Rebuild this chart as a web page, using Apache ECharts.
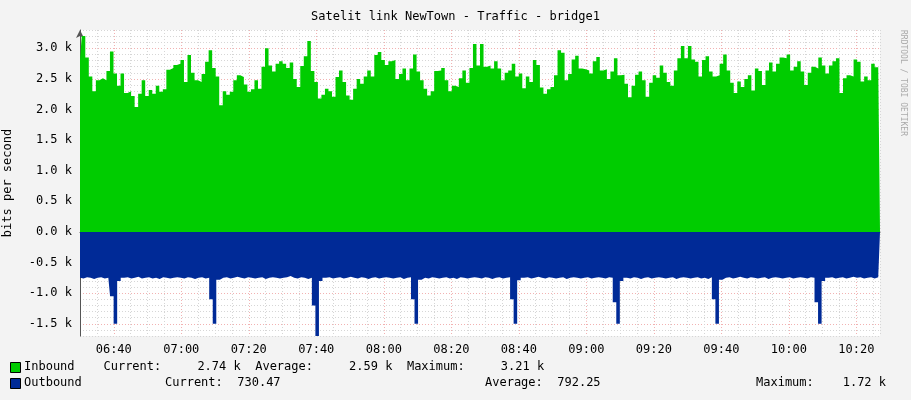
<!DOCTYPE html>
<html>
<head>
<meta charset="utf-8">
<script src="https://cdn.jsdelivr.net/npm/echarts@6/dist/echarts.min.js"></script>
<style>
  html, body { margin: 0; background: #f3f3f3; }
  #main { width: 911px; height: 400px; }
</style>
</head>
<body>
<div id="main"></div>
<script>
// minutes since midnight: first sample ~06:30, last ~10:27
var startMin = 390, endMin = 627;

// inbound, kbit/s
var inbound = [
  2.82,3.20,2.85,2.54,2.30,2.48,2.51,2.48,2.63,2.95,2.59,2.39,2.59,2.27,2.30,2.22,2.04,2.26,2.48,2.22,
  2.32,2.26,2.39,2.29,2.33,2.65,2.68,2.73,2.75,2.81,2.45,2.89,2.60,2.48,2.45,2.58,2.78,2.97,2.68,2.54,
  2.07,2.30,2.24,2.29,2.48,2.56,2.53,2.41,2.29,2.33,2.48,2.34,2.70,3.00,
  2.72,2.62,2.75,2.79,2.75,2.68,2.77,2.50,2.37,2.71,2.87,3.12,2.63,2.45,2.18,2.24,2.34,2.30,2.21,2.53,
  2.64,2.45,2.23,2.16,2.34,2.50,2.42,2.54,2.64,2.54,2.89,2.94,2.81,2.73,2.79,2.81,2.50,2.58,2.67,2.48,
  2.67,2.90,2.62,2.48,2.34,2.23,2.30,2.63,2.64,2.68,2.48,2.30,2.39,2.37,2.51,2.64,2.44,2.68,3.07,2.72,
  3.07,2.70,2.72,2.67,2.79,2.67,2.48,2.60,2.64,2.75,2.54,2.59,2.35,2.54,2.45,2.81,2.73,2.36,2.26,2.33,
  2.37,2.56,2.97,2.93,2.48,2.58,2.82,2.88,2.67,2.66,2.64,2.59,2.79,2.86,2.64,2.66,2.50,2.62,2.84,2.56,
  2.57,2.42,2.20,2.39,2.57,2.62,2.48,2.21,2.44,2.56,2.52,2.72,2.60,2.45,2.39,2.64,2.84,3.04,2.84,
  3.04,2.82,2.78,2.54,2.81,2.87,2.62,2.54,2.56,2.75,2.90,2.64,2.44,2.27,2.46,2.37,2.50,2.56,2.31,2.67,
  2.63,2.40,2.64,2.77,2.62,2.75,2.85,2.84,2.90,2.64,2.70,2.79,2.62,2.40,2.60,2.70,2.67,2.85,2.72,2.59,
  2.72,2.79,2.84,2.27,2.51,2.56,2.54,2.82,2.78,2.46,2.54,2.48,2.75,2.69,2.72
];

// outbound, kbit/s (drawn below zero)
var outbound = [
  -0.75,-0.76,-0.74,-0.75,-0.77,-0.75,-0.74,-0.76,-0.75,-1.05,-1.50,-0.80,-0.75,-0.74,-0.76,-0.75,-0.73,-0.76,-0.75,-0.74,
  -0.76,-0.75,-0.77,-0.74,-0.75,-0.76,-0.75,-0.74,-0.75,-0.76,-0.74,-0.75,-0.77,-0.75,-0.74,-0.76,-0.75,-1.10,-1.50,-0.78,
  -0.75,-0.74,-0.76,-0.75,-0.73,-0.75,-0.76,-0.74,-0.75,-0.76,-0.75,-0.74,-0.77,-0.75,-0.74,-0.75,-0.76,-0.75,-0.74,-0.72,
  -0.75,-0.76,-0.74,-0.75,-0.77,-0.75,-1.20,-1.72,-0.80,-0.75,-0.74,-0.76,-0.75,-0.74,-0.76,-0.75,-0.73,-0.75,-0.76,-0.74,
  -0.75,-0.77,-0.75,-0.74,-0.76,-0.75,-0.74,-0.75,-0.76,-0.75,-0.74,-0.77,-0.75,-0.74,-1.10,-1.50,-0.78,-0.75,-0.76,-0.74,
  -0.75,-0.76,-0.75,-0.74,-0.76,-0.75,-0.77,-0.74,-0.75,-0.76,-0.75,-0.74,-0.75,-0.76,-0.74,-0.75,-0.77,-0.75,-0.74,-0.76,
  -0.75,-0.74,-1.10,-1.50,-0.79,-0.75,-0.74,-0.76,-0.75,-0.73,-0.75,-0.76,-0.74,-0.75,-0.76,-0.75,-0.74,-0.77,-0.75,-0.74,
  -0.75,-0.76,-0.75,-0.74,-0.76,-0.75,-0.74,-0.75,-0.76,-0.74,-0.75,-1.15,-1.50,-0.80,-0.75,-0.76,-0.74,-0.75,-0.77,-0.75,
  -0.74,-0.76,-0.75,-0.74,-0.75,-0.76,-0.75,-0.74,-0.77,-0.75,-0.74,-0.75,-0.76,-0.75,-0.74,-0.76,-0.75,-0.77,-0.74,-1.10,
  -1.50,-0.78,-0.75,-0.74,-0.76,-0.75,-0.73,-0.75,-0.76,-0.74,-0.75,-0.76,-0.75,-0.74,-0.77,-0.75,-0.74,-0.75,-0.76,-0.75,
  -0.74,-0.76,-0.75,-0.74,-0.75,-0.76,-0.74,-0.75,-1.15,-1.50,-0.80,-0.75,-0.74,-0.76,-0.75,-0.74,-0.76,-0.75,-0.73,-0.75,
  -0.74,-0.76,-0.75,-0.74,-0.76,-0.74,-0.73
];

var inboundStats = ['2.74 k', '2.59 k', '3.21 k'];
var outboundStats = ['730.47', '792.25', '1.72 k'];

function toPairs(arr) {
  var step = (endMin - startMin) / (arr.length - 1);
  return arr.map(function (v, i) { return [startMin + i * step, v]; });
}

var mono = 'DejaVu Sans Mono';
var grey = '#d6d6d6', red = '#f2b2b2';
var chart = echarts.init(document.getElementById('main'));
chart.setOption({
  backgroundColor: '#f3f3f3',
  animation: false,
  title: {
    text: 'Satelit link NewTown - Traffic - bridge1',
    left: 'center', top: 6,
    textStyle: { fontFamily: mono, fontSize: 12, fontWeight: 'normal', color: '#000' }
  },
  grid: {
    left: 80, right: 31, top: 30, bottom: 64, backgroundColor: '#fff', show: true, borderWidth: 0,
    outerBoundsMode: 'none', containLabel: false
  },
  xAxis: {
    type: 'value', min: 390, max: 627, interval: 5,
    axisLine: { lineStyle: { color: '#555' }, symbol: ['none', 'arrow'], symbolSize: [6, 8] },
    axisTick: { show: false },
    axisLabel: {
      fontFamily: mono, fontSize: 12, color: '#000', margin: 8,
      showMinLabel: false, showMaxLabel: false,
      formatter: function (v) {
        if (v % 20 !== 0) return '';
        var h = Math.floor(v / 60), m = v % 60;
        return (h < 10 ? '0' : '') + h + ':' + (m < 10 ? '0' : '') + m;
      }
    },
    splitLine: { show: true, lineStyle: { type: [1, 2], color: [grey, grey, red, grey] } }
  },
  yAxis: {
    type: 'value', min: -1.7, max: 3.3, interval: 0.1,
    name: 'bits per second', nameLocation: 'middle', nameGap: 66,
    nameTextStyle: { fontFamily: mono, fontSize: 12, color: '#000' },
    axisLine: { show: true, lineStyle: { color: '#555' }, symbol: ['none', 'arrow'], symbolSize: [6, 8] },
    axisTick: { show: false },
    axisLabel: {
      fontFamily: mono, fontSize: 12, color: '#000',
      formatter: function (v) {
        var d = v * 2;
        if (Math.abs(d - Math.round(d)) > 1e-6) return '';
        var r = Math.round(d) / 2;
        return (r === 0 ? '0.0' : r.toFixed(1)) + ' k';
      }
    },
    splitLine: { show: true, lineStyle: { type: [1, 2], color: [grey, grey, red, grey, grey] } }
  },
  series: [
    {
      name: 'Inbound', type: 'line', step: 'middle', symbol: 'none',
      data: toPairs(inbound),
      lineStyle: { width: 0 }, areaStyle: { color: '#00cc00', opacity: 1 }
    },
    {
      name: 'Outbound', type: 'line', step: 'middle', symbol: 'none',
      data: toPairs(outbound),
      lineStyle: { width: 0 }, areaStyle: { color: '#002a97', opacity: 1 }
    }
  ],
  graphic: [
    { type: 'text', right: 4, top: 30, rotation: -Math.PI / 2, style: { text: 'RRDTOOL / TOBI OETIKER', fontFamily: mono, fontSize: 8, fill: '#aaa' } },
    { type: 'rect', left: 10, top: 362, shape: { width: 10, height: 10 }, style: { fill: '#00cc00', stroke: '#000' } },
    { type: 'rect', left: 10, top: 378, shape: { width: 10, height: 10 }, style: { fill: '#002a97', stroke: '#000' } },
    { type: 'text', left: 24, top: 361, style: { text: 'Inbound    Current:     ' + inboundStats[0] + '  Average:     ' + inboundStats[1] + '  Maximum:     ' + inboundStats[2], fontFamily: mono, fontSize: 12, fill: '#000' } },
    { type: 'text', left: 24, top: 377, style: { text: 'Outbound', fontFamily: mono, fontSize: 12, fill: '#000' } },
    { type: 'text', left: 165, top: 377, style: { text: 'Current:  ' + outboundStats[0], fontFamily: mono, fontSize: 12, fill: '#000' } },
    { type: 'text', left: 485, top: 377, style: { text: 'Average:  ' + outboundStats[1], fontFamily: mono, fontSize: 12, fill: '#000' } },
    { type: 'text', left: 756, top: 377, style: { text: 'Maximum:    ' + outboundStats[2], fontFamily: mono, fontSize: 12, fill: '#000' } }
  ]
});
</script>
</body>
</html>
